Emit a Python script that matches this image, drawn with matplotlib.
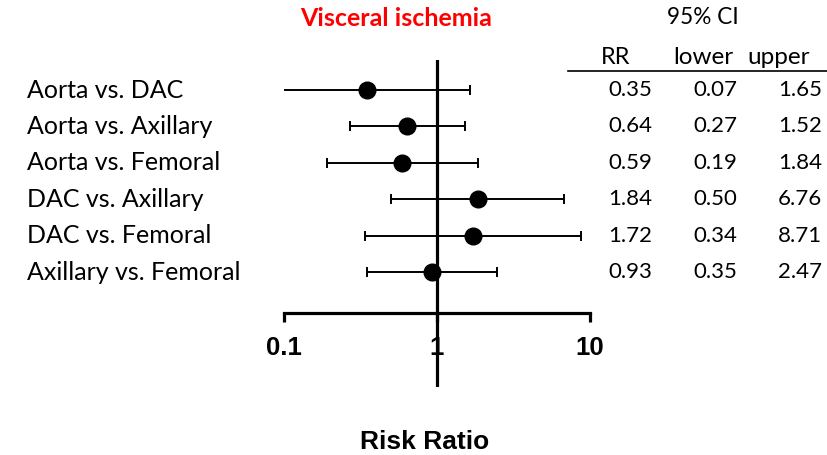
import matplotlib
matplotlib.use("Agg")
import matplotlib.pyplot as plt
from matplotlib.transforms import blended_transform_factory
import numpy as np

labels = ["Aorta vs. DAC", "Aorta vs. Axillary", "Aorta vs. Femoral",
          "DAC vs. Axillary", "DAC vs. Femoral", "Axillary vs. Femoral"]
rr = [0.35, 0.64, 0.59, 1.84, 1.72, 0.93]
lower = [0.07, 0.27, 0.19, 0.50, 0.34, 0.35]
upper = [1.65, 1.52, 1.84, 6.76, 8.71, 2.47]
xticks = [0.1, 1, 10]
xtick_labels = ["0.1", "1", "10"]

W, H = 827, 455
fig = plt.figure(figsize=(W / 100, H / 100), dpi=100)

def fx(px):
    return px / W

def fy(py):
    return 1 - py / H

row_px = 36.4
y0_px = 90
ax = fig.add_axes([fx(284), fy(387), fx(590) - fx(284), fy(60) - fy(387)])
ax.set_xscale("log")
ax.set_xlim(0.1, 10)
ax.set_ylim((387 - y0_px) / row_px, (60 - y0_px) / row_px)

ypos = np.arange(len(labels))
rr_a = np.array(rr)
xerr = np.vstack([rr_a - np.array(lower), np.array(upper) - rr_a])
ax.errorbar(rr_a, ypos, xerr=xerr, fmt="o", color="black", markersize=12,
            elinewidth=1.4, capsize=3.6, capthick=1.4, zorder=4)
ax.axvline(1, color="black", lw=2.3, zorder=3)

for s in ["top", "left", "right"]:
    ax.spines[s].set_visible(False)
ax.spines["bottom"].set_position(("data", (313 - y0_px) / row_px))
ax.spines["bottom"].set_linewidth(2.3)
ax.set_yticks([])
ax.set_xticks(xticks)
ax.set_xticklabels(xtick_labels)
ax.minorticks_off()
ax.tick_params(axis="x", direction="out", length=6.5, width=2.3, pad=10)
for t in ax.get_xticklabels():
    t.set_fontfamily("Liberation Sans")
    t.set_fontweight("bold")
    t.set_fontsize(18.5)
ax.patch.set_alpha(0)

lab_font = "Lato"
num_fs = 16
trans = blended_transform_factory(fig.transFigure, ax.transData)
for i, lab in enumerate(labels):
    ax.text(fx(27), i, lab, transform=trans, ha="left", va="center",
            fontsize=18, family=lab_font)
    ax.text(fx(652), i, f"{rr[i]:.2f}", transform=trans, ha="right", va="center",
            fontsize=num_fs, family=lab_font)
    ax.text(fx(737), i, f"{lower[i]:.2f}", transform=trans, ha="right", va="center",
            fontsize=num_fs, family=lab_font)
    ax.text(fx(822), i, f"{upper[i]:.2f}", transform=trans, ha="right", va="center",
            fontsize=num_fs, family=lab_font)

fig.text(fx(703), fy(18), "95% CI", ha="center", va="center", fontsize=16.3, family=lab_font)
fig.text(fx(616), fy(57), "RR", ha="center", va="center", fontsize=17, family=lab_font)
fig.text(fx(703), fy(57), "lower", ha="center", va="center", fontsize=17.5, family=lab_font)
fig.text(fx(779), fy(57), "upper", ha="center", va="center", fontsize=17.5, family=lab_font)
fig.add_artist(plt.Line2D([fx(568), fx(827)], [fy(71), fy(71)], color="black", lw=1.2,
                          transform=fig.transFigure))

fig.text(fx(396), fy(18), "Visceral ischemia", ha="center", va="center", fontsize=18,
         family=lab_font, fontweight="bold", color="#ff0000")
fig.text(fx(425), fy(442), "Risk Ratio", ha="center", va="center", fontsize=19,
         family="Liberation Sans", fontweight="bold")

fig.savefig("out.png", dpi=100)
